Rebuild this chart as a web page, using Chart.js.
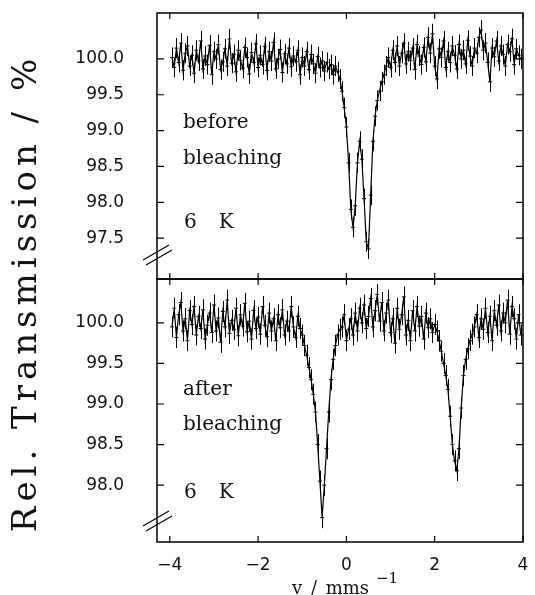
<!DOCTYPE html>
<html lang="en">
<head>
    <meta charset="UTF-8">
    <title>Mossbauer spectra before / after bleaching</title>
    <style>
        body { margin: 0; background: #fff; }
        #wrap { position: relative; width: 535px; height: 595px; overflow: hidden; }
        canvas { position: absolute; left: 0; top: 0; }
        .txt {
            position: absolute;
            font-family: 'DejaVu Serif', serif;
            font-size: 20px;
            line-height: 20px;
            white-space: pre;
            color: #111;
        }
        #ytitle {
            position: absolute;
            left: -276px; top: 268px;
            width: 600px; height: 50px;
            line-height: 50px;
            text-align: center;
            font-family: 'DejaVu Serif', serif;
            font-size: 34px;
            letter-spacing: 5px;
            color: #111;
            white-space: pre;
            transform: rotate(-90deg);
        }
    </style>
</head>
<body>
    <div id="wrap">
        <canvas id="topChart" width="535" height="595"></canvas>
        <canvas id="bottomChart" width="535" height="595"></canvas>

        <div id="ytitle">Rel. Transmission / %</div>

        <div class="txt" style="left:183px; top:111px;">before</div>
        <div class="txt" style="left:183px; top:147px;">bleaching</div>
        <div class="txt" style="left:184px; top:211px; word-spacing:1px;">6   K</div>

        <div class="txt" style="left:183px; top:378px;">after</div>
        <div class="txt" style="left:183px; top:413px;">bleaching</div>
        <div class="txt" style="left:184px; top:481px; word-spacing:1px;">6   K</div>

        <div class="txt" style="left:292px; top:578px; font-size:18px; word-spacing:3px;">v / mms</div>
        <div class="txt" style="left:376px; top:568px; font-size:15px;">−1</div>
    </div>

    <script src="https://cdn.jsdelivr.net/npm/chart.js"></script>

    <script>
        // velocity channels (mm/s)
        const velocity = [
            -3.95, -3.90, -3.85, -3.80, -3.75, -3.70, -3.65, -3.60, -3.55, -3.50,
            -3.45, -3.40, -3.35, -3.30, -3.25, -3.20, -3.15, -3.10, -3.05, -3.00,
            -2.95, -2.90, -2.85, -2.80, -2.75, -2.70, -2.65, -2.60, -2.55, -2.50,
            -2.45, -2.40, -2.35, -2.30, -2.25, -2.20, -2.15, -2.10, -2.05, -2.00,
            -1.95, -1.90, -1.85, -1.80, -1.75, -1.70, -1.65, -1.60, -1.55, -1.50,
            -1.45, -1.40, -1.35, -1.30, -1.25, -1.20, -1.15, -1.10, -1.05, -1.00,
            -0.95, -0.90, -0.85, -0.80, -0.75, -0.70, -0.65, -0.60, -0.55, -0.50,
            -0.45, -0.40, -0.35, -0.30, -0.25, -0.20, -0.15, -0.10, -0.05, 0.00,
            0.05, 0.10, 0.15, 0.20, 0.25, 0.30, 0.35, 0.40, 0.45, 0.50,
            0.55, 0.60, 0.65, 0.70, 0.75, 0.80, 0.85, 0.90, 0.95, 1.00,
            1.05, 1.10, 1.15, 1.20, 1.25, 1.30, 1.35, 1.40, 1.45, 1.50,
            1.55, 1.60, 1.65, 1.70, 1.75, 1.80, 1.85, 1.90, 1.95, 2.00,
            2.05, 2.10, 2.15, 2.20, 2.25, 2.30, 2.35, 2.40, 2.45, 2.50,
            2.55, 2.60, 2.65, 2.70, 2.75, 2.80, 2.85, 2.90, 2.95, 3.00,
            3.05, 3.10, 3.15, 3.20, 3.25, 3.30, 3.35, 3.40, 3.45, 3.50,
            3.55, 3.60, 3.65, 3.70, 3.75, 3.80, 3.85, 3.90, 3.95
        ];

        // before bleaching, 6 K (%)
        const transBefore = [
            100.02, 99.88, 100.15, 99.95, 100.22, 99.84, 100.08, 100.18, 99.90, 100.05,
            99.80, 100.12, 99.97, 100.25, 99.86, 100.04, 99.92, 100.19, 99.78, 100.10,
            100.00, 100.20, 99.85, 99.96, 100.14, 99.90, 100.28, 99.94, 100.06, 99.82,
            100.12, 99.98, 99.87, 100.16, 100.02, 99.79, 100.09, 99.95, 100.21, 99.88,
            100.05, 99.92, 100.17, 99.84, 100.10, 99.97, 100.23, 99.86, 100.00, 100.13,
            99.81, 100.07, 99.93, 100.15, 99.89, 100.04, 99.96, 100.12, 99.78, 100.02,
            99.90, 100.10, 99.85, 100.06, 99.93, 99.80, 100.03, 99.88, 99.97, 99.83,
            99.95, 99.86, 99.92, 99.78, 99.90, 99.82,
            // doublet
            99.72, 99.55, 99.32, 99.05, 98.55, 97.90, 97.65, 97.95, 98.55, 98.85,
            98.60, 98.05, 97.45, 97.35, 98.10, 98.85, 99.20, 99.42, 99.55, 99.68,
            99.78, 99.90,
            100.02, 99.88, 100.12, 99.95, 100.18, 99.90, 100.08, 100.22, 99.93, 100.10,
            99.98, 100.15, 99.85, 100.20, 100.04, 99.92, 100.16, 99.96, 100.30, 100.08,
            100.35, 99.90, 99.72, 100.14, 100.02, 100.25, 99.88, 100.10, 99.95, 100.18,
            100.05, 99.86, 100.20, 100.00, 100.12, 99.93, 100.26, 100.04, 99.90, 100.15,
            100.08, 100.30, 100.40, 100.12, 100.22, 99.95, 99.68, 100.15, 100.03, 100.25,
            99.97, 100.18, 100.06, 99.90, 100.20, 100.10, 100.28, 99.92, 100.14, 100.05,
            100.00
        ];

        // after bleaching, 6 K (%)
        const transAfter = [
            99.95, 100.18, 99.82, 100.10, 100.25, 99.90, 100.05, 99.78, 100.15, 99.98,
            100.20, 99.85, 100.08, 99.93, 100.16, 99.80, 99.97, 100.12, 99.88, 100.22,
            99.90, 100.06, 99.76, 100.14, 99.95, 100.28, 99.87, 100.03, 99.92, 100.18,
            99.84, 100.10, 99.96, 100.24, 99.89, 100.02, 99.80, 100.15, 99.93, 100.07,
            99.86, 100.20, 99.97, 99.83, 100.12, 99.90, 100.05, 99.78, 100.10, 99.94,
            100.16, 99.85, 100.02, 99.90, 100.20, 99.95, 99.82, 100.08, 99.93,
            // line at -0.55
            99.85, 99.72, 99.60, 99.45, 99.30, 99.12, 98.90, 98.50, 98.05, 97.60,
            98.00, 98.45, 98.90, 99.30, 99.55, 99.72, 99.85, 99.92,
            99.95, 100.10, 99.78, 99.92, 100.05, 99.85, 100.12, 99.90, 100.18, 100.00,
            100.22, 99.93, 100.08, 100.30, 99.95, 100.15, 100.35, 100.02, 100.25, 99.90,
            100.12, 100.28, 99.88, 100.05, 99.75, 100.18, 99.92, 100.10, 100.32, 99.85,
            100.03, 99.78, 100.15, 99.90, 100.20, 99.96, 100.08, 99.80, 100.12, 99.94,
            100.05, 99.88, 99.98, 99.90,
            // line at 2.5
            99.78, 99.65, 99.50, 99.35, 99.18, 98.85, 98.50, 98.30, 98.18, 98.45,
            98.95, 99.35, 99.55, 99.68, 99.78, 99.86,
            99.95, 100.10, 99.82, 100.05, 99.92, 100.18, 99.88, 100.08, 99.78, 100.15,
            99.97, 100.22, 99.90, 100.12, 100.00, 100.28, 99.86, 100.20, 100.05, 99.80,
            100.10, 99.85
        ];

        const errBefore = 0.14;
        const errAfter = 0.13;

        const xTicks = [-4, -2, 0, 2, 4];
        const yTicksBefore = [97.5, 98.0, 98.5, 99.0, 99.5, 100.0];
        const yTicksAfter = [98.0, 98.5, 99.0, 99.5, 100.0];

        const tickFont = { family: "'DejaVu Sans', sans-serif", size: 17 };

        // vertical error bars on every channel
        const errorBars = {
            id: 'errorBars',
            afterDatasetsDraw(chart) {
                const ctx = chart.ctx;
                const x = chart.scales.x, y = chart.scales.y;
                const ds = chart.data.datasets[0];
                ctx.save();
                ctx.strokeStyle = '#000';
                ctx.lineWidth = 1;
                ctx.beginPath();
                ds.data.forEach(p => {
                    const px = Math.round(x.getPixelForValue(p.x)) + 0.5;
                    ctx.moveTo(px, y.getPixelForValue(p.y - ds.errorBar));
                    ctx.lineTo(px, y.getPixelForValue(p.y + ds.errorBar));
                });
                ctx.stroke();
                ctx.restore();
            }
        };

        // box, inward ticks and the axis-break mark
        const frame = {
            id: 'frame',
            afterDraw(chart, args, opts) {
                const ctx = chart.ctx;
                const a = chart.chartArea;
                const x = chart.scales.x, y = chart.scales.y;
                ctx.save();
                ctx.strokeStyle = '#000';
                ctx.lineWidth = 1.5;
                ctx.strokeRect(a.left, a.top, a.right - a.left, a.bottom - a.top);

                ctx.lineWidth = 1.2;
                ctx.beginPath();
                opts.yTicks.forEach(v => {
                    const py = y.getPixelForValue(v);
                    ctx.moveTo(a.left, py);  ctx.lineTo(a.left + 7, py);
                    ctx.moveTo(a.right, py); ctx.lineTo(a.right - 7, py);
                });
                xTicks.forEach(v => {
                    const px = x.getPixelForValue(v);
                    ctx.moveTo(px, a.top);    ctx.lineTo(px, a.top + 6);
                    ctx.moveTo(px, a.bottom); ctx.lineTo(px, a.bottom - 6);
                });
                // break //
                const by = a.bottom - opts.breakOffset;
                ctx.moveTo(a.left - 14, by + 7);  ctx.lineTo(a.left + 12, by - 8);
                ctx.moveTo(a.left - 11, by + 12); ctx.lineTo(a.left + 15, by - 3);
                ctx.stroke();
                ctx.restore();
            }
        };

        function makeChart(id, trans, err, yMin, yMax, yTicks, showX, padding, breakOffset) {
            return new Chart(document.getElementById(id), {
                type: 'line',
                data: {
                    datasets: [{
                        data: velocity.map((v, i) => ({ x: v, y: trans[i] })),
                        errorBar: err,
                        borderColor: '#000',
                        borderWidth: 1.2,
                        tension: 0,
                        pointStyle: 'line',
                        pointRadius: 2,
                        pointBorderWidth: 1,
                        pointBorderColor: '#000',
                        fill: false
                    }]
                },
                options: {
                    responsive: false,
                    animation: false,
                    layout: { padding: padding },
                    plugins: {
                        legend: { display: false },
                        tooltip: { enabled: false },
                        frame: { yTicks: yTicks, breakOffset: breakOffset }
                    },
                    scales: {
                        x: {
                            type: 'linear',
                            min: -4.29,
                            max: 4.0,
                            display: showX,
                            afterBuildTicks: s => { s.ticks = xTicks.map(v => ({ value: v })); },
                            afterFit: s => {
                                s.height = showX ? 30 : 0;
                                s.paddingLeft = 0;
                                s.paddingRight = 0;
                            },
                            grid: { display: false, drawTicks: false },
                            border: { display: false },
                            ticks: {
                                padding: 13,
                                autoSkip: false,
                                maxRotation: 0,
                                color: '#111',
                                font: tickFont,
                                callback: v => v < 0 ? '−' + Math.abs(v) : String(v)
                            }
                        },
                        y: {
                            min: yMin,
                            max: yMax,
                            afterBuildTicks: s => { s.ticks = yTicks.map(v => ({ value: v })); },
                            afterFit: s => {
                                s.width = 157;
                                s.paddingTop = 0;
                                s.paddingBottom = 0;
                            },
                            grid: { display: false, drawTicks: false },
                            border: { display: false },
                            ticks: {
                                padding: 33,
                                color: '#111',
                                font: tickFont,
                                callback: v => v.toFixed(1)
                            }
                        }
                    }
                },
                plugins: [errorBars, frame]
            });
        }

        makeChart('topChart', transBefore, errBefore, 96.93, 100.64, yTicksBefore, false,
            { top: 13, right: 12, bottom: 316, left: 0 }, 26);
        makeChart('bottomChart', transAfter, errAfter, 97.30, 100.54, yTicksAfter, true,
            { top: 279, right: 12, bottom: 23, left: 0 }, 23);
    </script>
</body>
</html>
